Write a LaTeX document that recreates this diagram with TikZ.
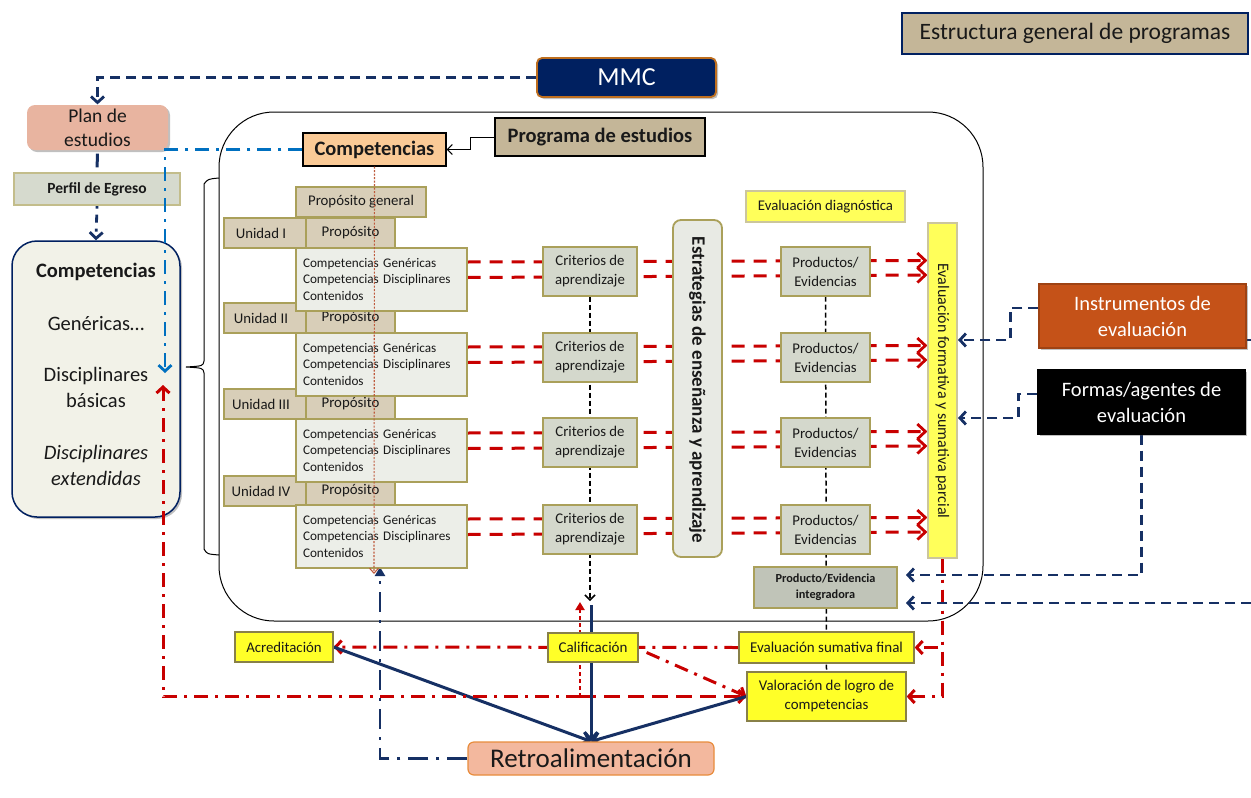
\documentclass[tikz,border=0pt]{standalone}
\usepackage{fontspec}
\setmainfont{Carlito}
\usetikzlibrary{arrows.meta,shadows,calc}
\pgfdeclarelayer{bg}\pgfdeclarelayer{fg}\pgfsetlayers{bg,main,fg}
\definecolor{navyc}{RGB}{0,32,96}
\definecolor{navyl}{RGB}{22,48,100}
\definecolor{redc}{RGB}{200,0,0}
\definecolor{bluec}{RGB}{0,112,192}
\definecolor{tanc}{RGB}{196,182,152}
\definecolor{proptan}{RGB}{216,206,184}
\definecolor{olivec}{RGB}{170,160,90}
\definecolor{contc}{RGB}{236,238,232}
\definecolor{critc}{RGB}{212,216,204}
\definecolor{yelc}{RGB}{255,255,40}
\definecolor{yeld}{RGB}{255,255,90}
\definecolor{pintc}{RGB}{192,196,184}
\definecolor{compoc}{RGB}{250,202,150}
\definecolor{planc}{RGB}{232,180,160}
\definecolor{retroc}{RGB}{243,184,158}
\definecolor{retrob}{RGB}{232,140,60}
\definecolor{instrc}{RGB}{197,82,24}
\definecolor{complc}{RGB}{242,242,232}
\definecolor{perfc}{RGB}{214,218,206}
\definecolor{estrc}{RGB}{232,234,228}
\definecolor{brownc}{RGB}{190,90,60}
\definecolor{mmcb}{RGB}{190,110,30}
\newcommand{\fz}[2]{\fontsize{#1}{#2}\selectfont}
\tikzset{
  box/.style={draw, line width=1.2pt, inner sep=0pt, align=center, text=black!90},
  tanbox/.style={box, fill=proptan, draw=olivec, font={\fz{14.8}{17}}},
  contbox/.style={box, fill=contc, draw=olivec, align=left, text width=157pt, inner xsep=7pt, minimum height=63pt, font={\fz{13.2}{16.5}}},
  critbox/.style={box, fill=critc, draw=olivec, minimum height=49pt, font={\fz{14.8}{19}}},
  yelbox/.style={box, fill=yelc, draw=olivec!80!black},
  shad/.style={drop shadow={shadow xshift=2pt,shadow yshift=-2pt,opacity=0.35,fill=black!70}},
  vtip/.style={-{Straight Barb[length=6pt,width=13pt]}},
  redrow/.style={draw=redc, line width=3pt, dash pattern=on 13pt off 9pt, -{Straight Barb[length=8pt,width=15pt,line width=2.8pt]}},
  reddd/.style={draw=redc, line width=3pt, dash pattern=on 14pt off 7pt on 3pt off 7pt},
  redlong/.style={draw=redc, line width=3pt, dash pattern=on 16pt off 8pt},
  navyd/.style={draw=navyl, line width=2.8pt, dash pattern=on 10pt off 6pt},
  navydd/.style={draw=navyl, line width=2.8pt, dash pattern=on 20pt off 8pt on 3pt off 8pt},
  navys/.style={draw=navyl, line width=3pt},
  bluedd/.style={draw=bluec, line width=2.8pt, dash pattern=on 14pt off 7pt on 3pt off 7pt},
  blkd/.style={draw=black, line width=1.5pt, dash pattern=on 5pt off 3pt},
}
\begin{document}
\begin{tikzpicture}[x=1pt,y=-1pt]
\begin{pgfonlayer}{bg}
\fill[white] (0,0) rectangle (1251,798);
\end{pgfonlayer}
\useasboundingbox (0,0) rectangle (1251,798);
% ---------- nodes ----------
\node[box, fill=tanc, draw=navyc, minimum width=346pt, minimum height=41pt, font={\fz{23.5}{26}}] (title) at (1075,33.5) {Estructura general de programas};
\node[box, fill=navyc, draw=mmcb, text=white, rounded corners=5pt, line width=1.8pt, minimum width=179pt, minimum height=39pt, shad, font={\fz{26}{30}}] (mmc) at (626.5,77.5) {MMC};
\node[box, fill=planc, draw=none, rounded corners=8pt, minimum width=141pt, minimum height=45pt, shad, font={\fz{19.5}{24}}] (plan) at (97.5,127.5) {Plan de\\estudios};
\node[box, fill=perfc, draw=olivec!70, minimum width=166pt, minimum height=32pt, font={\fz{15.5}{18}\bfseries}] (perfil) at (97,189) {Perfil de Egreso};
\node[box, fill=complc, draw=navyc, line width=1.5pt, rounded corners=25pt, minimum width=168pt, minimum height=276pt, shad] (compl) at (96,379) {};
\node[inner sep=0pt, align=center, text=black!90, font={\fz{20.5}{26}}] (compltext) at (96,374) {{\bfseries Competencias}\\[27pt]Genéricas…\\[25pt]Disciplinares\\básicas\\[26pt]\itshape Disciplinares\\\itshape extendidas};
\node[box, fill=compoc, draw=black, minimum width=143pt, minimum height=33pt, font={\fz{20.5}{24}\bfseries}] (compo) at (374.5,149.5) {Competencias};
\node[box, fill=tanc, draw=black, minimum width=210pt, minimum height=38pt, font={\fz{20.5}{24}\bfseries}] (prog) at (600,137) {Programa de estudios};
\node[tanbox, minimum width=130pt, minimum height=30pt] (propgen) at (361,202) {Propósito general};
\foreach \i/\t/\r in {1/218/I,2/303/II,3/389/III,4/476/IV}{
  \node[tanbox, minimum width=82pt, minimum height=30pt] (u\i) at (265,\t+15) {\hspace*{-8pt}Unidad \r};
  \node[tanbox, minimum width=89pt, minimum height=30pt] (p\i) at (350.5,\t+15) {Propósito};
}
\foreach \i/\t in {1/248,2/333,3/419,4/505}{
  \node[contbox] (c\i) at (381.5,\t+31.5) {Competencias Genéricas\\Competencias Disciplinares\\Contenidos};
}
\foreach \i/\t in {1/247,2/333,3/418,4/505}{
  \node[critbox, minimum width=94pt] (k\i) at (590,\t+24.5) {Criterios de\\aprendizaje};
  \node[critbox, minimum width=89pt] (pr\i) at (825.5,\t+24.5) {Productos/\\Evidencias};
}
\node[box, fill=estrc, draw=olivec, line width=1.8pt, rounded corners=8pt, minimum width=49pt, minimum height=337pt] (estr) at (697.5,388.5) {};
\node[rotate=-90, inner sep=0pt, text=black!90, font={\fz{19}{21}\bfseries}] (estrtext) at (697.5,390) {Estrategias de enseñanza y aprendizaje};
\node[box, fill=yeld, draw=olivec!60, minimum width=159pt, minimum height=31pt, font={\fz{14.8}{17}}] (evaldiag) at (825.5,206.5) {Evaluación diagnóstica};
\node[box, fill=yeld, draw=olivec!60, minimum width=29pt, minimum height=335pt] (evalform) at (942.5,390.5) {};
\node[rotate=-90, inner sep=0pt, text=black!90, font={\fz{16}{18}}] (evalformtext) at (942.5,391) {Evaluación formativa y sumativa parcial};
\node[box, fill=pintc, draw=olivec, minimum width=143pt, minimum height=41pt, font={\fz{12.3}{16}\bfseries}] (prodint) at (825.5,587.5) {Producto/Evidencia\\integradora};
\node[yelbox, minimum width=175pt, minimum height=31pt, font={\fz{15}{17}}] (evalsf) at (826.5,647.5) {Evaluación sumativa final};
\node[yelbox, minimum width=159pt, minimum height=49pt, font={\fz{14.9}{19}}] (valor) at (826.5,696.5) {Valoración de logro de\\competencias};
\node[yelbox, minimum width=90pt, minimum height=29pt, font={\fz{15}{17}}] (calif) at (593,647.5) {Calificación};
\node[yelbox, minimum width=98pt, minimum height=30pt, font={\fz{14.8}{17}}] (acred) at (284,647) {Acreditación};
\node[box, fill=retroc, draw=retrob, rounded corners=6pt, minimum width=246pt, minimum height=33pt, font={\fz{27}{30}}] (retro) at (591,758.5) {Retroalimentación};
\node[box, fill=instrc, draw=instrc!80!black, text=white, minimum width=207pt, minimum height=64pt, shad, font={\fz{20.5}{26}}] (instr) at (1142.5,316) {Instrumentos de\\evaluación};
\node[box, fill=black, draw=black, text=white, minimum width=207pt, minimum height=64pt, shad, font={\fz{20.5}{26}}] (formas) at (1141.5,402) {Formas/agentes de\\evaluación};
% free ends
\coordinate (bluetip) at (165,373);
\coordinate (redtip) at (163,385);
\coordinate (rj) at (580,696.5);
\coordinate (redup) at (580,602);
\coordinate (blktip) at (590,601);
\coordinate (navtop) at (591,605);
\coordinate (navtip) at (380,567);
\coordinate (brtip) at (374,574);
\coordinate (efA) at (958,340);
\coordinate (efB) at (958,418);
\coordinate (piA) at (906,575);
\coordinate (piB) at (906,603);
\coordinate (rightB) at (1251,603);
\coordinate (instrR) at (1251,340);
% ---------- connectors ----------
\begin{pgfonlayer}{bg}
\draw[black, line width=1pt, rounded corners=55pt] (219,112) rectangle (983,621);
\draw[black, line width=1pt] (219,178) .. controls (208,179) .. (204,184) -- (204,361) .. controls (203,366) .. (186,367) .. controls (203,368) .. (204,373) -- (204,549) .. controls (207,554) .. (219,555);
\draw[navyd, vtip] (mmc.west) -| (plan.north);
\draw[navyl, line width=3pt, shorten <=3pt, shorten >=5pt] (plan.south) -- (perfil.north);
\draw[navyl, line width=2.8pt, dash pattern=on 3pt off 6pt on 8pt off 6pt, vtip] (perfil.south) -- (compl.north);
\draw[redlong, vtip] (rj) -- (valor.west);
\draw[draw=redc, line width=2.5pt, dash pattern=on 4pt off 3pt, -{Triangle[length=8pt,width=9pt]}] (rj) -- (redup);
\draw[reddd, vtip] ($(calif.east)+(8,5)$) -- (valor.west);
\draw[reddd, vtip] (evalsf.west) -- (acred.east);
\draw[reddd, vtip] (evalform.south) |- (valor.east);
\draw[reddd, vtip] (evalform.south) |- (evalsf.east);
\foreach \i in {1,2,3,4}{
  \draw[redrow] ($(c\i.east)+(0,-17.5)$) -- ($(c\i.east -| evalform.west)+(0,-19)$);
  \draw[redrow] ($(c\i.east)+(0,-2)$) -- ($(c\i.east -| evalform.west)+(0,-4.5)$);
}
\draw[blkd, -{Straight Barb[length=5pt,width=10pt]}] (k1.south) -- (blktip);
\draw[blkd] (pr1.south) -- (valor.north);
\draw[navys, -{Straight Barb[length=7pt,width=13pt]}] (acred.east) -- (retro.north);
\draw[navys, -{Straight Barb[length=7pt,width=13pt]}] (valor.west) -- (retro.north);
\draw[navys, -{Straight Barb[length=7pt,width=13pt]}] (navtop) -- (retro.north);
\draw[navydd, -{Triangle[length=9pt,width=10pt]}] (retro.west) -| (navtip);
\draw[navyd, vtip] ($(instr.west)+(0,-8)$) -- ++(-28,0) |- (efA);
\draw[navyd, vtip] ($(formas.west)+(0,-8)$) -- ++(-19,0) |- (efB);
\draw[navyd, vtip] (formas.south) |- (piA);
\draw[navyd, vtip] (rightB) -- (piB);
\draw[navys, line width=2.5pt] ($(instr.east)+(0,24)$) -- (instrR);
\draw[black, line width=1pt, -{Straight Barb[length=5pt,width=10pt]}] (prog.west) -- ++(-24,0) |- (compo.east);
\end{pgfonlayer}
\begin{pgfonlayer}{fg}
\draw[bluedd, vtip] (compo.west) -| (bluetip);
\draw[reddd, vtip] (rj) -| (redtip);
\draw[brownc, line width=1.1pt, dash pattern=on 2pt off 1.5pt, -{Straight Barb[length=5pt,width=9pt]}] (compo.south) -- (brtip);
\end{pgfonlayer}
\end{tikzpicture}
\end{document}
